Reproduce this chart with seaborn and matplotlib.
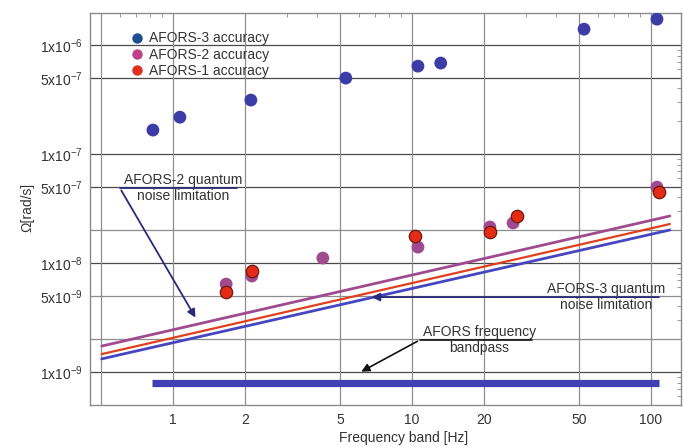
import matplotlib
matplotlib.use("Agg")
import matplotlib.pyplot as plt
from matplotlib.lines import Line2D
import seaborn as sns
import pandas as pd

# ---- data ----
afors3_freq = [0.825, 1.07, 2.12, 5.29, 10.6, 13.2, 52.5, 106]
afors3_acc = [1.66e-7, 2.18e-7, 3.13e-7, 4.98e-7, 6.41e-7, 6.84e-7, 1.40e-6, 1.73e-6]

afors2_freq = [1.67, 2.14, 4.24, 10.6, 21.2, 26.5, 106]
afors2_acc = [6.41e-9, 7.6e-9, 1.11e-8, 1.40e-8, 2.14e-8, 2.33e-8, 4.97e-8]

afors1_freq = [1.67, 2.14, 10.3, 21.2, 27.5, 108]
afors1_acc = [5.42e-9, 8.45e-9, 1.77e-8, 1.92e-8, 2.70e-8, 4.48e-8]

noise_freq = [0.504, 120]
noise_afors2 = [1.73e-9, 2.70e-8]
noise_afors1 = [1.46e-9, 2.28e-8]
noise_afors3 = [1.32e-9, 2.01e-8]

band_freq = [0.817, 108]
band_level = [8.0e-10, 8.0e-10]

x_ticks = [1, 2, 5, 10, 20, 50, 100]
x_tick_labels = ["1", "2", "5", "10", "20", "50", "100"]
y_ticks = [1e-9, 5e-9, 1e-8, 5e-8, 1e-7, 5e-7, 1e-6]
y_tick_labels = [r"1x10$^{-9}$", r"5x10$^{-9}$", r"1x10$^{-8}$", r"5x10$^{-7}$",
                 r"1x10$^{-7}$", r"5x10$^{-7}$", r"1x10$^{-6}$"]

# ---- style ----
sns.set_style("white")
plt.rcParams["font.family"] = ["Liberation Sans", "DejaVu Sans"]
plt.rcParams["mathtext.fontset"] = "custom"
plt.rcParams["mathtext.rm"] = "Liberation Sans"
plt.rcParams["mathtext.it"] = "Liberation Sans:italic"
plt.rcParams["mathtext.bf"] = "Liberation Sans:bold"

TXT = "#333333"
C_BLUE = "#3c3ca6"
C_PURP = "#a04a90"
C_RED = "#e52a16"

fig = plt.figure(figsize=(6.83, 4.47), dpi=100)
ax = fig.add_axes([90 / 683, 42 / 447, 591 / 683, 392 / 447])
ax.set_xscale("log")
ax.set_yscale("log")
ax.set_xlim(0.45, 133.6)
ax.set_ylim(4.98e-10, 1.97e-6)

# grid
for v in [1e-9, 1e-8, 1e-7, 1e-6, 5e-7, 5e-8]:
    ax.axhline(v, color="#4a4a4a", lw=0.9, zorder=0.5)
for v in [2e-9, 5e-9, 2e-8]:
    ax.axhline(v, color="#8c8c8c", lw=0.9, zorder=0.5)
for v in [0.5] + x_ticks:
    ax.axvline(v, color="#8f8f8f", lw=0.9, zorder=0.5)

# noise limitation lines
df_n = pd.DataFrame({"f": noise_freq, "a2": noise_afors2, "a1": noise_afors1, "a3": noise_afors3})
sns.lineplot(data=df_n, x="f", y="a2", color="#a04a90", lw=2.0, ax=ax, zorder=2)
sns.lineplot(data=df_n, x="f", y="a1", color="#e0401e", lw=1.6, ax=ax, zorder=2)
sns.lineplot(data=df_n, x="f", y="a3", color="#4646c0", lw=2.0, ax=ax, zorder=2)

# bandpass bar
df_b = pd.DataFrame({"f": band_freq, "v": band_level})
sns.lineplot(data=df_b, x="f", y="v", color="#4040b4", lw=5.2, ax=ax, zorder=2)
ax.lines[-1].set_solid_capstyle("butt")

# points
df3 = pd.DataFrame({"f": afors3_freq, "v": afors3_acc})
df2 = pd.DataFrame({"f": afors2_freq, "v": afors2_acc})
df1 = pd.DataFrame({"f": afors1_freq, "v": afors1_acc})
sns.scatterplot(data=df3, x="f", y="v", color=C_BLUE, s=85, edgecolor="none", ax=ax, zorder=3, legend=False)
sns.scatterplot(data=df2, x="f", y="v", color=C_PURP, s=85, edgecolor="none", ax=ax, zorder=3, legend=False)
sns.scatterplot(data=df1, x="f", y="v", color=C_RED, s=80, edgecolor="#6a1a10", linewidth=0.9, ax=ax, zorder=4, legend=False)

# ticks
ax.set_xticks(x_ticks)
ax.set_xticklabels(x_tick_labels)
ax.set_yticks(y_ticks)
ax.set_yticklabels(y_tick_labels)
ax.tick_params(axis="both", which="major", direction="in", length=0, labelsize=10, labelcolor=TXT, pad=5)
ax.tick_params(axis="both", which="minor", direction="in", length=3, color="#888888",
               top=True, right=True, labelleft=False, labelbottom=False)
ax.tick_params(axis="x", which="major", pad=6)
for s in ax.spines.values():
    s.set_color("#8a8a8a")
    s.set_linewidth(1.0)

ax.set_xlabel("Frequency band [Hz]", fontsize=10, color=TXT)
ax.xaxis.set_label_coords(0.531, -0.067)
ax.set_ylabel("Ω[rad/s]", fontsize=10, color=TXT)
ax.yaxis.set_label_coords(-0.094, 0.503)

# legend
handles = [
    Line2D([], [], ls="none", marker="o", ms=7.5, mfc="#1f4e8e", mec="none", label="AFORS-3 accuracy"),
    Line2D([], [], ls="none", marker="o", ms=7.5, mfc="#c0408c", mec="none", label="AFORS-2 accuracy"),
    Line2D([], [], ls="none", marker="o", ms=7.5, mfc="#e0301e", mec="none", label="AFORS-1 accuracy"),
]
leg = ax.legend(handles=handles, loc="upper left", bbox_to_anchor=(0.068, 0.953), frameon=False,
                fontsize=10, labelspacing=0.15, handletextpad=0.35, borderpad=0.0,
                handlelength=1.0, borderaxespad=0.0)
for t in leg.get_texts():
    t.set_color(TXT)

# annotations
ann_col2 = "#2a2a7a"
ax.plot([0.60, 1.85], [4.88e-8, 4.88e-8], color=ann_col2, lw=1.3, zorder=5)
ax.annotate("", xy=(1.26, 3.0e-9), xytext=(0.60, 4.88e-8),
            arrowprops=dict(arrowstyle="-|>", color=ann_col2, lw=1.3, mutation_scale=12), zorder=5)
ax.text(1.10, 4.88e-8, "AFORS-2 quantum\nnoise limitation", ha="center", va="center",
        fontsize=10, color=TXT, linespacing=1.2, zorder=6)

ax.annotate("", xy=(6.61, 4.87e-9), xytext=(111, 4.87e-9),
            arrowprops=dict(arrowstyle="-|>", color=ann_col2, lw=1.3, mutation_scale=12), zorder=5)
ax.text(64.8, 4.87e-9, "AFORS-3 quantum\nnoise limitation", ha="center", va="center",
        fontsize=10, color=TXT, linespacing=1.2, zorder=6)

ax.plot([10.8, 31.8], [1.97e-9, 1.97e-9], color="#111111", lw=1.2, zorder=5)
ax.annotate("", xy=(6.0, 9.8e-10), xytext=(10.8, 1.97e-9),
            arrowprops=dict(arrowstyle="-|>", color="#111111", lw=1.2, mutation_scale=12), zorder=5)
ax.text(19.2, 1.97e-9, "AFORS frequency\nbandpass", ha="center", va="center",
        fontsize=10, color=TXT, linespacing=1.2, zorder=6)

fig.savefig("out.png", dpi=100)
